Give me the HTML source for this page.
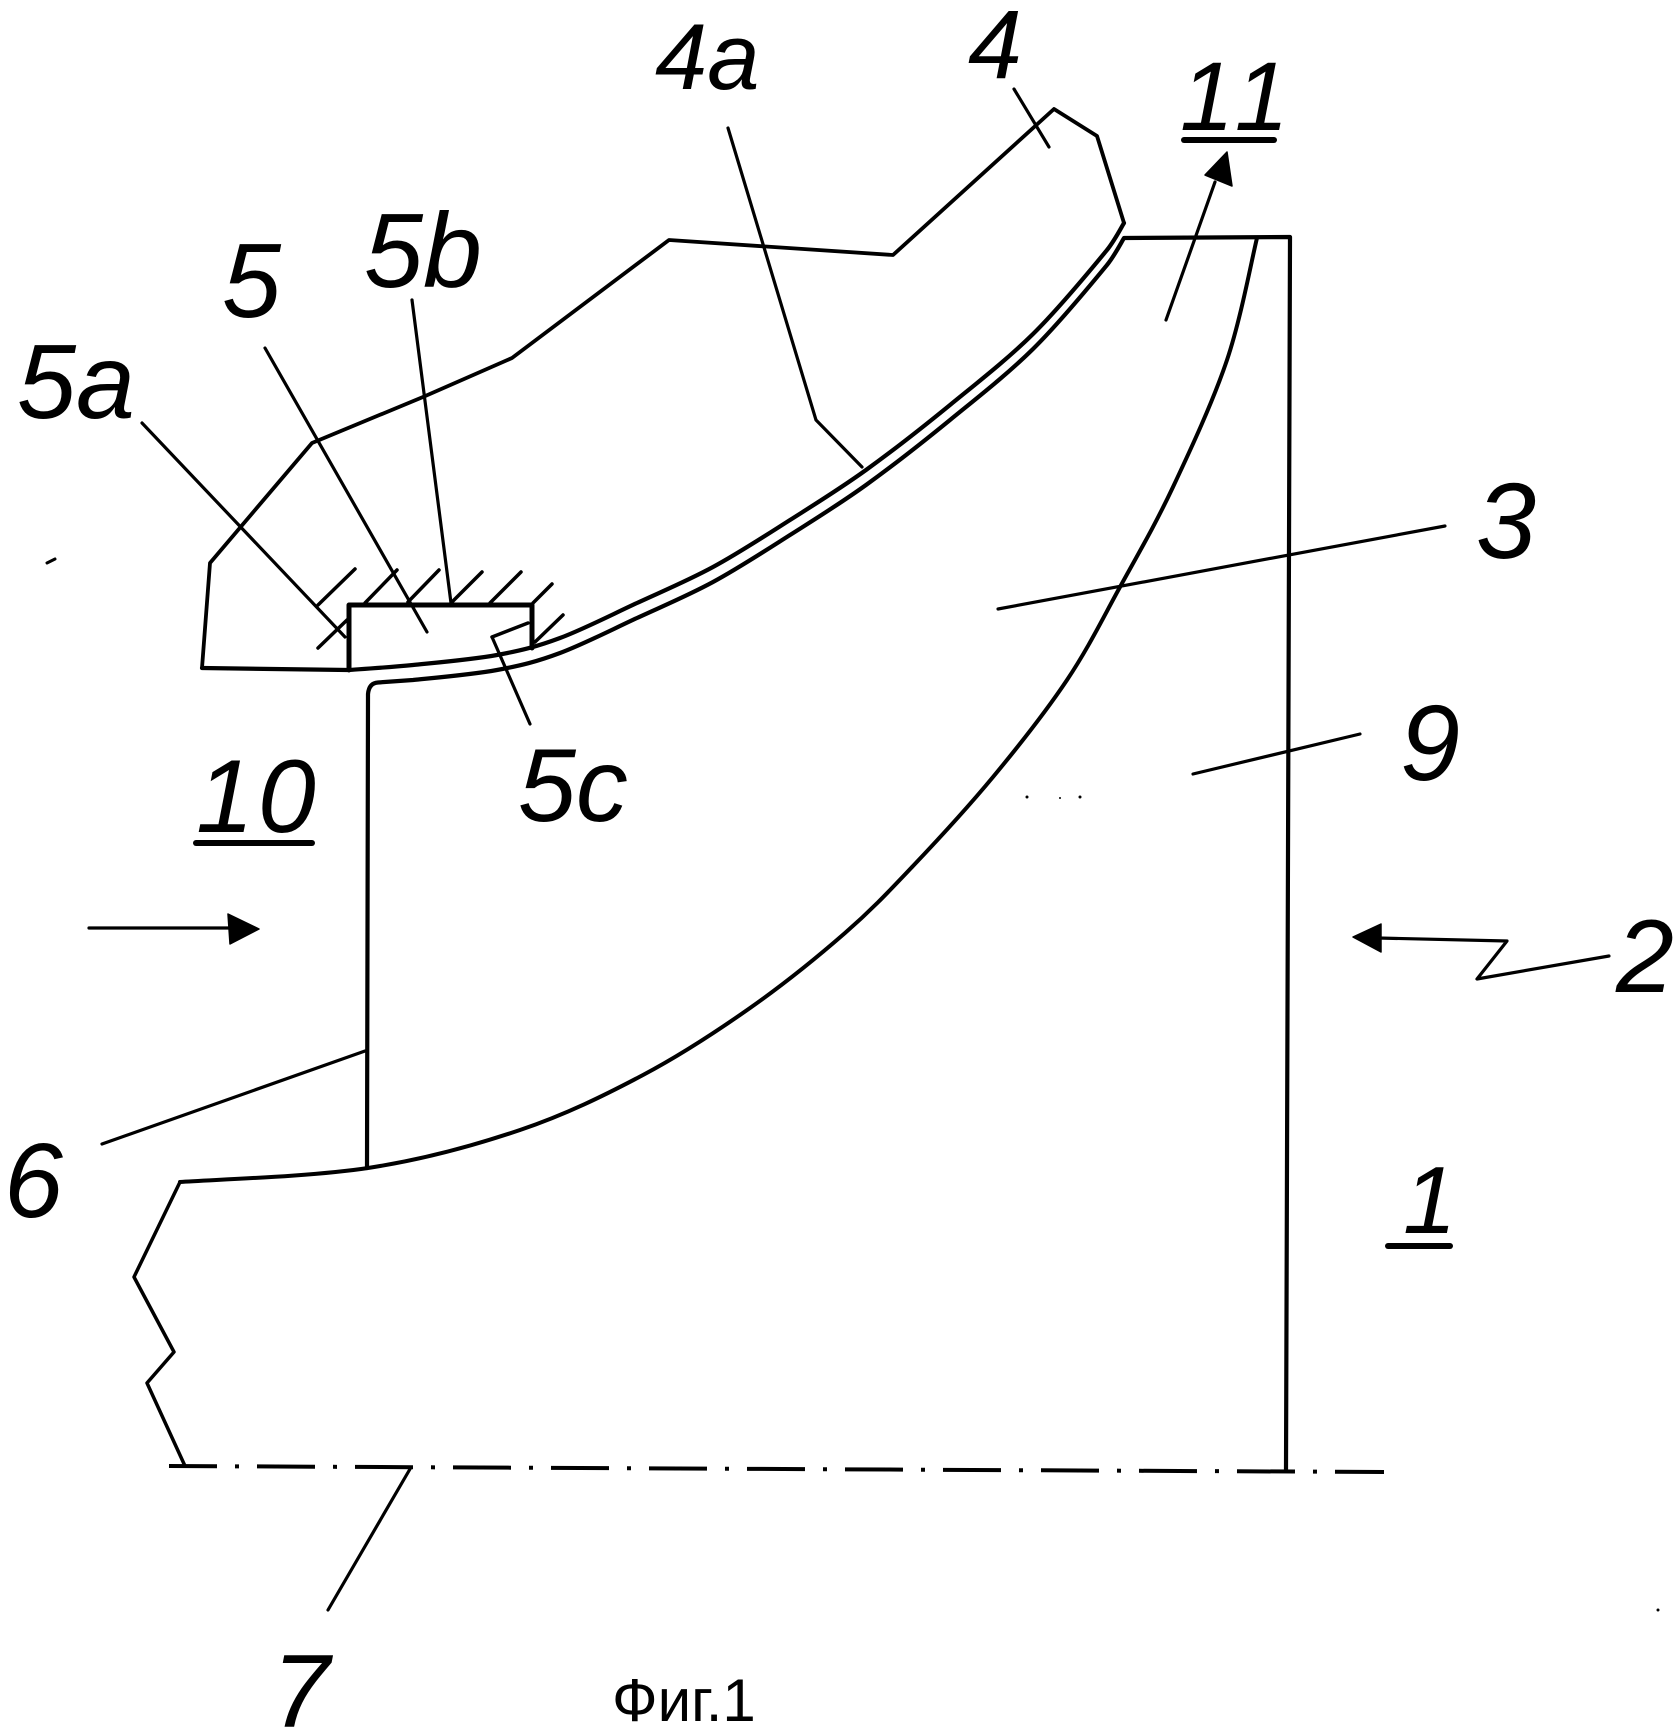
<!DOCTYPE html>
<html><head><meta charset="utf-8"><style>
html,body{margin:0;padding:0;background:#fff;}
svg{display:block;}
text{font-family:"Liberation Sans",sans-serif;fill:#000;}
.lb{font-style:italic;}
</style></head><body>
<svg width="1680" height="1734" viewBox="0 0 1680 1734" xmlns="http://www.w3.org/2000/svg">
<rect width="1680" height="1734" fill="#fff"/>
<g fill="none" stroke="#000" stroke-linejoin="round" stroke-linecap="round">
<!-- housing 4 outline -->
<polyline stroke-width="3.8" points="202,668 210,563 312,443 423,397 512,358 669,240 893,255 1054,109 1097,136 1124,223"/>
<!-- housing bottom + surface 4a (upper line of gap) -->
<path stroke-width="4.2" d="M202,668 L348,670 C358.8,669.2 388.2,667.5 413,665 C437.8,662.5 472.5,659.5 497,655 C521.5,650.5 536.7,646.7 560,638 C583.3,629.3 611.5,614.8 637,603 C662.5,591.2 687.5,580.8 713,567 C738.5,553.2 764.5,536.2 790,520 C815.5,503.8 839.3,489.2 866,470 C892.7,450.8 922.2,427.7 950,405 C977.8,382.3 1006.8,359.8 1033,334 C1059.2,308.2 1091.8,268.5 1107,250 C1115,240 1121.2,227.5 1124,223"/>
<!-- blade edge 6, shroud line (lower line), top and right edge -->
<path stroke-width="4.2" d="M367,1168 L368,694 Q369,683 378,682.5 L413,680 C437.8,677.5 472.5,674.5 497,670 C521.5,665.5 536.7,661.7 560,653 C583.3,644.3 611.5,629.8 637,618 C662.5,606.2 687.5,595.8 713,582 C738.5,568.2 764.5,551.2 790,535 C815.5,518.8 839.3,504.2 866,485 C892.7,465.8 922.2,442.7 950,420 C977.8,397.3 1006.8,374.8 1033,349 C1059.2,323.2 1091.8,283.5 1107,265 C1115,255 1121.2,242.5 1124,238 L1290,237 L1286,1470"/>
<!-- blade trailing edge / hub curve -->
<path stroke-width="4" d="M1257,238 C1252,258 1241,318.5 1227,360 C1213,401.5 1190.8,449.2 1173,487 C1155.2,524.8 1137.7,554.8 1120,587 C1102.3,619.2 1088.2,648.3 1067,680 C1045.8,711.7 1018.7,746 993,777 C967.3,808 937.7,840 913,866 C888.3,892 872.2,909.3 845,933 C817.8,956.7 783.7,984.3 750,1008 C716.3,1031.7 681.3,1054.7 643,1075 C604.7,1095.3 565.8,1114.5 520,1130 C474.2,1145.5 424.7,1159.3 368,1168 C311.3,1176.7 211.3,1179.7 180,1182"/>
<!-- hub outline -->
<polyline stroke-width="3.5" points="180,1182 134,1277 174,1352 147,1383 185,1466"/>
<!-- seal 5 -->
<polyline stroke-width="5" points="349,670 349,605 532,605 532,648"/>
<!-- 5c step -->
<line stroke-width="3.5" x1="492" y1="637" x2="528" y2="623"/>
<!-- hatches -->
<g stroke-width="3.5">
<line x1="318" y1="605" x2="355" y2="569"/>
<line x1="318" y1="648" x2="347" y2="620"/>
<line x1="365" y1="603" x2="397" y2="570"/>
<line x1="408" y1="602" x2="439" y2="570"/>
<line x1="452" y1="602" x2="482" y2="572"/>
<line x1="490" y1="603" x2="521" y2="572"/>
<line x1="533" y1="603" x2="552" y2="584"/>
<line x1="535" y1="642" x2="563" y2="615"/>
</g>
<!-- leaders -->
<g stroke-width="3.2">
<line x1="142" y1="423" x2="345" y2="637"/>
<line x1="265" y1="348" x2="427" y2="632"/>
<line x1="412" y1="300" x2="451" y2="603"/>
<line x1="492" y1="637" x2="530" y2="724"/>
<polyline points="728,128 816,420 862,467"/>
<line x1="1014" y1="89" x2="1049" y2="147"/>
<line x1="998" y1="609" x2="1445" y2="526"/>
<line x1="1193" y1="774" x2="1360" y2="734"/>
<line x1="102" y1="1144" x2="365" y2="1051"/>
<line x1="410" y1="1469" x2="328" y2="1610"/>
<polyline points="1378,938 1507,941 1477,979 1609,956"/>
<line x1="1166" y1="320" x2="1215" y2="182"/>
<line x1="89" y1="928" x2="235" y2="928"/>
</g>
<!-- centerline -->
<line x1="169" y1="1466" x2="1384" y2="1472" stroke-width="4" stroke-linecap="butt" stroke-dasharray="58 18 4 18" stroke-dashoffset="10"/>
<!-- underlines -->
<g stroke-width="6">
<line x1="1184" y1="140" x2="1274" y2="140"/>
<line x1="196" y1="843" x2="312" y2="843"/>
<line x1="1388" y1="1246" x2="1450" y2="1246"/>
</g>
<!-- stray marks -->
<line stroke-width="3" x1="47" y1="563" x2="55" y2="559"/>
</g>
<!-- arrowheads -->
<g fill="#000" stroke="#000" stroke-width="1.5" stroke-linejoin="round">
<polygon points="1227,152 1205,175 1232,186"/>
<polygon points="259,929 228,914 230,944"/>
<polygon points="1353,937 1381,924 1381,952"/>
</g>
<g fill="#000">
<circle cx="1027" cy="797" r="1.5"/><circle cx="1060" cy="798" r="1"/><circle cx="1080" cy="797" r="1.5"/>
<circle cx="1658" cy="1610" r="1.5"/>
</g>
<!-- labels -->
<text class="lb" x="968" y="78" font-size="97">4</text>
<text class="lb" x="655" y="89" font-size="94">4a</text>
<text class="lb" x="1180" y="130" font-size="97" letter-spacing="8">11</text>
<text class="lb" x="364" y="287" font-size="106">5b</text>
<text class="lb" x="222" y="317" font-size="106">5</text>
<text class="lb" x="17" y="418" font-size="106">5a</text>
<text class="lb" x="1476" y="558" font-size="108">3</text>
<text class="lb" x="1400" y="780" font-size="108">9</text>
<text class="lb" x="518" y="821" font-size="104">5c</text>
<text class="lb" x="196" y="832" font-size="104" letter-spacing="4">10</text>
<text class="lb" x="1616" y="992" font-size="104">2</text>
<text class="lb" x="4" y="1217" font-size="106">6</text>
<text class="lb" x="1403" y="1233" font-size="96">1</text>
<text class="lb" x="272" y="1727" font-size="104">7</text>
<text x="612" y="1721" font-size="60">Фиг.1</text>
</svg>
</body></html>
